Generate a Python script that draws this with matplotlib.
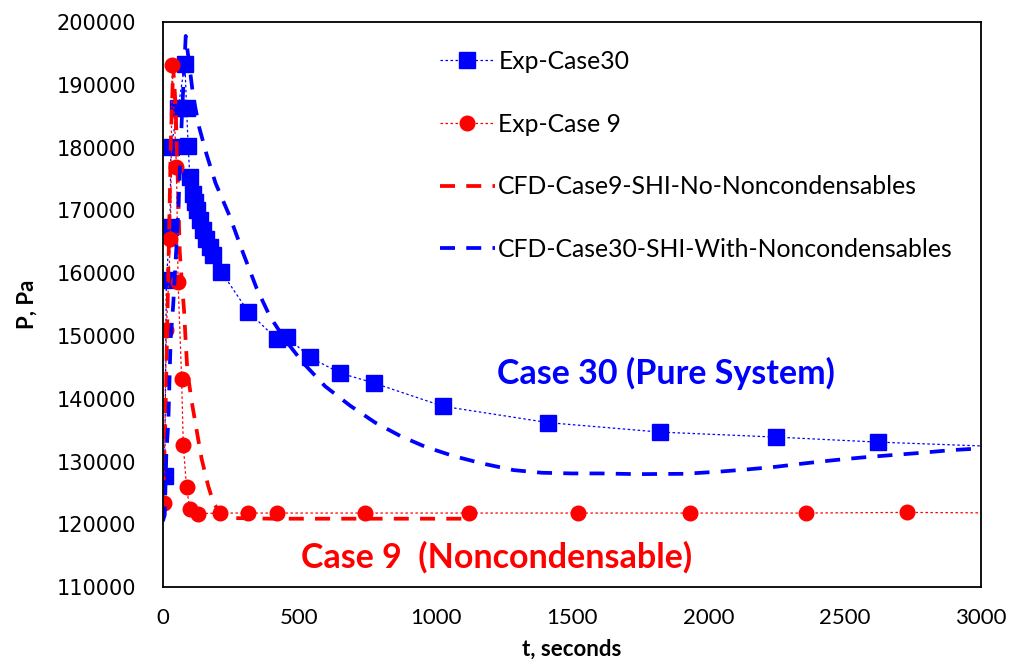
import matplotlib.pyplot as plt

# Exp-Case30 (squares)
exp30_t = [7, 13, 26, 30, 56, 81, 87, 93, 99, 111, 117, 126, 136, 148, 160, 173, 185, 215,
           313, 418, 454, 540, 650, 775, 1028, 1414, 1822, 2248, 2622, 3120]
exp30_p = [127700, 158900, 167400, 180100, 186300, 193400, 186400, 180200, 175400, 172700,
           171400, 170100, 168500, 166900, 165500, 164200, 162900, 160200,
           153900, 149500, 149900, 146600, 144100, 142500, 138800, 136200, 134700, 133900,
           133100, 132300]

# Exp-Case 9 (circles)
exp9_t = [4, 13, 28, 34, 50, 56, 69, 75, 87, 99, 130, 209, 313, 418, 740, 1122, 1524,
          1934, 2358, 2728, 3120]
exp9_p = [123400, 150900, 165400, 193200, 177000, 158600, 143200, 132700, 125900, 122400,
          121700, 121800, 121800, 121800, 121800, 121800, 121800, 121800, 121800, 121900,
          121800]

# CFD-Case9
cfd9_t = [0, 10, 20, 30, 38, 47, 50, 56, 62, 70, 78, 84, 90, 105, 124, 142, 166, 185, 210,
          260, 400, 700, 1100]
cfd9_p = [121000, 138000, 160000, 182000, 192800, 186800, 182000, 173100, 163500, 158500,
          154000, 149000, 144500, 139800, 135000, 130500, 126200, 123500, 121800, 121000,
          120900, 120900, 120900]

# CFD-Case30
cfd30_t = [0, 7, 13, 20, 23, 26, 29, 38, 56, 70, 84, 112, 133, 160, 193, 246, 295, 344,
           393, 450, 515, 595, 687, 779, 870, 962, 1066, 1170, 1286, 1390, 1500, 1605, 1740,
           1910, 2033, 2143, 2248, 2352, 2462, 2566, 2670, 2780, 2890, 3000]
cfd30_p = [120500, 121500, 131300, 136100, 140600, 145400, 149700, 154900, 169100, 185000,
           197800, 188000, 183300, 179000, 174400, 169000, 163150, 157600,
           153100, 149300, 145700, 142000, 138900, 136200, 134100, 132360, 130880, 129710,
           128640, 128220, 128110, 128110, 128000, 128050, 128370, 128750, 129170, 129710,
           130230, 130660, 131020, 131390, 131820, 132100]

fig = plt.figure(figsize=(10.24, 6.71), dpi=100)
ax = fig.add_axes([0.159, 0.125, 0.799, 0.842])

ax.plot(exp30_t, exp30_p, color='#0000ff', marker='s', markersize=11.5, lw=0.9,
        linestyle=(0, (2, 2)), label='Exp-Case30')
ax.plot(exp9_t, exp9_p, color='#ff0000', marker='o', markersize=10.5, lw=0.9,
        linestyle=(0, (2, 2)), label='Exp-Case 9')
ax.plot(cfd9_t, cfd9_p, color='#ff0000', lw=2.7, linestyle=(0, (4, 3)),
        label='CFD-Case9-SHI-No-Noncondensables')
ax.plot(cfd30_t, cfd30_p, color='#0000ff', lw=2.7, linestyle=(0, (4, 3)),
        label='CFD-Case30-SHI-With-Noncondensables')

ax.set_xlim(0, 3000)
ax.set_ylim(110000, 200000)
ax.set_xticks(range(0, 3001, 500))
ax.set_yticks(range(110000, 200001, 10000))
ax.tick_params(axis='x', length=0, pad=15)
ax.tick_params(axis='y', length=0, pad=19)
for lbl in ax.get_xticklabels():
    lbl.set_fontfamily('Lato')
    lbl.set_fontsize(16)
for lbl in ax.get_yticklabels():
    lbl.set_fontfamily('DejaVu Sans')
    lbl.set_fontsize(15)
for s in ax.spines.values():
    s.set_linewidth(1.3)

ax.set_xlabel('t, seconds', fontsize=16, fontweight='bold', family='Lato', labelpad=8)
ax.set_ylabel('P, Pa', fontsize=16, fontweight='bold', family='Lato', labelpad=14)

ax.text(1843, 144100, 'Case 30 (Pure System)', color='#0000ff', fontsize=24.5,
        fontweight='bold', family='Lato', ha='center', va='center')
ax.text(1222, 114800, 'Case 9  (Noncondensable)', color='#ff0000', fontsize=24.5,
        fontweight='bold', family='Lato', ha='center', va='center')

leg = ax.legend(loc='upper left', bbox_to_anchor=(0.327, 0.968), frameon=False,
                prop={'family': 'Lato', 'size': 17.8}, handlelength=2.2,
                handletextpad=0.15, labelspacing=1.6, borderaxespad=0)

fig.savefig('out.png', dpi=100)
